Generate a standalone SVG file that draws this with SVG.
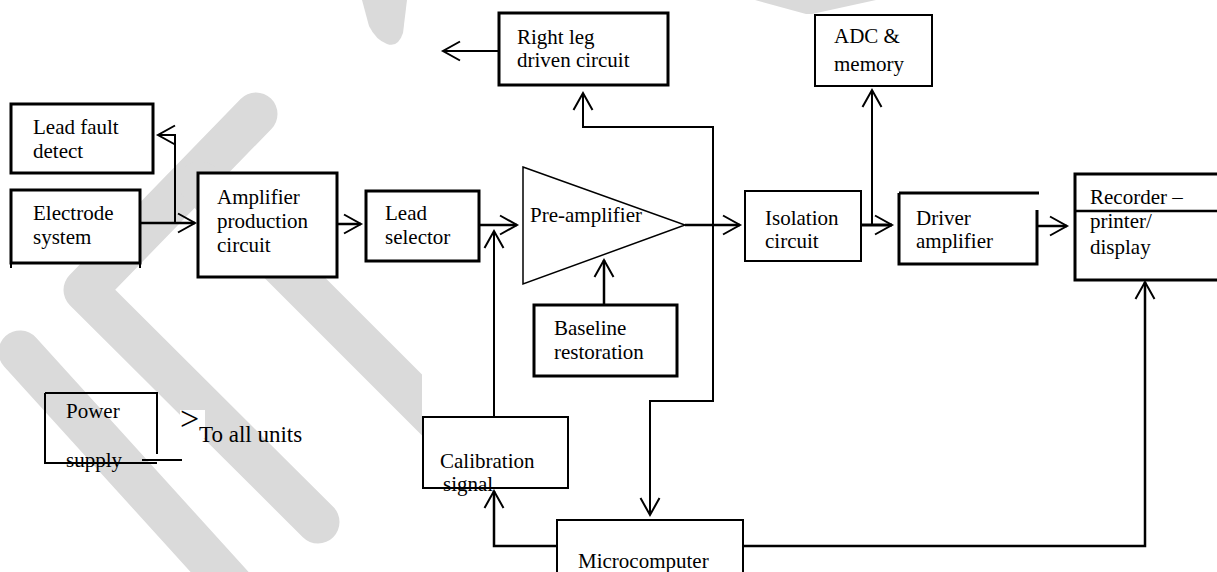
<svg xmlns="http://www.w3.org/2000/svg" width="1217" height="572" viewBox="0 0 1217 572">
<style>
.bg{fill:#ffffff}
.wm{fill:none;stroke:#dadada;stroke-width:43;stroke-linecap:round;stroke-linejoin:round}
.box{fill:#ffffff;stroke:#000;stroke-width:3}
.thin{fill:#ffffff;stroke:#000;stroke-width:2}
.open{fill:none;stroke:#000;stroke-width:2}
.c{fill:none;stroke:#000;stroke-width:2.5}
.c2{fill:none;stroke:#000;stroke-width:2}
.t{font-family:"Liberation Serif","Times New Roman",serif;font-size:21px;fill:#000}
</style>
<defs>
<marker id="arr" markerUnits="userSpaceOnUse" markerWidth="22" markerHeight="24" viewBox="-19 -12 22 24" refX="0" refY="0" orient="auto">
<path d="M-17,-9.5 L0,0 L-17,9.5" fill="none" stroke="#000" stroke-width="2"/>
</marker>
<clipPath id="clipS4"><rect x="180" y="0" width="242" height="572"/></clipPath>
</defs>
<rect class="bg" x="0" y="0" width="1217" height="572"/>
<g id="watermark">
<path class="wm" d="M256,114 L85,290 L318,522"/>
<path class="wm" d="M20,352 L245,600"/>
<path class="wm" d="M200,183 L445,428" clip-path="url(#clipS4)"/>
<path d="M362,0 L407,0 L403,33 Q398,48 387,44 Q376,40 369,26 Z" fill="#dadada"/>
<path d="M755,0 L876,0 L812,14 L806,14 Z" fill="#dadada"/>
</g>
<g id="connectors">
<path class="c" d="M140,223 H195" marker-end="url(#arr)"/>
<path class="c2" d="M175,223 V135 H158" marker-end="url(#arr)"/>
<path class="c" d="M337,224 H361" marker-end="url(#arr)"/>
<path class="c" d="M479,225 H517" marker-end="url(#arr)"/>
<path class="c2" d="M494,417 V231" marker-end="url(#arr)"/>
<path class="c" d="M604,305 V260" marker-end="url(#arr)"/>
<path class="c" d="M685,225 H740" marker-end="url(#arr)"/>
<path class="c2" d="M713,300 V127 H583 V93" marker-end="url(#arr)"/>
<path class="c2" d="M713,290 V401 H650 V515" marker-end="url(#arr)"/>
<path class="c2" d="M499,51 H443" marker-end="url(#arr)"/>
<path class="c" d="M861,225 H892" marker-end="url(#arr)" style="stroke-width:3"/>
<path class="c2" d="M872,225 V90" marker-end="url(#arr)"/>
<path class="c" d="M1037,226 H1067" marker-end="url(#arr)"/>
<path class="c" d="M557,546 H494 V491" marker-end="url(#arr)"/>
<path class="c" d="M743,546 H1145 V282" marker-end="url(#arr)"/>
</g>
<g id="lead-fault">
<rect class="box" x="11" y="104" width="142" height="69"/>
<text class="t" x="33" y="134">Lead fault</text>
<text class="t" x="33" y="158">detect</text>
</g>
<g id="electrode">
<rect class="box" x="11" y="190" width="129" height="73"/>
<path class="open" d="M11,263 v5 M140,263 v5"/>
<text class="t" x="33" y="220">Electrode</text>
<text class="t" x="33" y="244">system</text>
</g>
<g id="amplifier-production">
<rect class="box" x="198" y="173" width="139" height="104"/>
<text class="t" x="217" y="204">Amplifier</text>
<text class="t" x="217" y="228">production</text>
<text class="t" x="217" y="252">circuit</text>
</g>
<g id="lead-selector">
<rect class="box" x="366" y="191" width="113" height="70"/>
<text class="t" x="385" y="220">Lead</text>
<text class="t" x="385" y="244">selector</text>
</g>
<g id="pre-amplifier">
<path d="M523,167 L685,225 L523,284 Z" fill="#ffffff" stroke="#000" stroke-width="1.5"/>
<text class="t" x="530" y="222">Pre-amplifier</text>
</g>
<g id="baseline">
<rect class="box" x="534" y="305" width="143" height="71"/>
<text class="t" x="554" y="335">Baseline</text>
<text class="t" x="554" y="359">restoration</text>
</g>
<g id="right-leg">
<rect class="box" x="499" y="13" width="169" height="72"/>
<text class="t" x="517" y="44">Right leg</text>
<text class="t" x="517" y="67">driven circuit</text>
</g>
<g id="isolation">
<rect class="thin" x="745" y="191" width="116" height="70"/>
<text class="t" x="765" y="225">Isolation</text>
<text class="t" x="765" y="248">circuit</text>
</g>
<g id="adc">
<rect class="thin" x="815" y="15" width="117" height="71"/>
<text class="t" x="834" y="43">ADC &amp;</text>
<text class="t" x="834" y="71">memory</text>
</g>
<g id="driver">
<path class="open" d="M899,193 H1039 M899,193 V264 H1037 V210" style="stroke-width:3"/>
<text class="t" x="916" y="225">Driver</text>
<text class="t" x="916" y="248">amplifier</text>
</g>
<g id="recorder">
<rect class="box" x="1075" y="174" width="160" height="106"/>
<path class="open" d="M1075,211 H1217" style="stroke-width:2.5"/>
<text class="t" x="1090" y="204">Recorder –</text>
<text class="t" x="1090" y="228">printer/</text>
<text class="t" x="1090" y="254">display</text>
</g>
<g id="calibration">
<rect class="thin" x="423" y="417" width="145" height="71"/>
<text class="t" x="440" y="468">Calibration</text>
<text class="t" x="443" y="491">signal</text>
<path class="open" d="M423,488 H568"/>
</g>
<g id="microcomputer">
<rect class="thin" x="557" y="520" width="186" height="60"/>
<text class="t" x="578" y="568">Microcomputer</text>
</g>
<g id="power-supply">
<text class="t" x="66" y="418">Power</text>
<text class="t" x="66" y="467">supply</text>
<path class="open" d="M45,393 H157 V454 M45,393 V463 H157"/>
<path class="open" d="M142,460 H182"/>
<rect x="180" y="410" width="25" height="28" fill="#ffffff"/>
<text class="t" x="180" y="430" style="font-size:34px">&gt;</text>
<text class="t" x="199" y="442" style="font-size:23px">To all units</text>
</g>
</svg>
